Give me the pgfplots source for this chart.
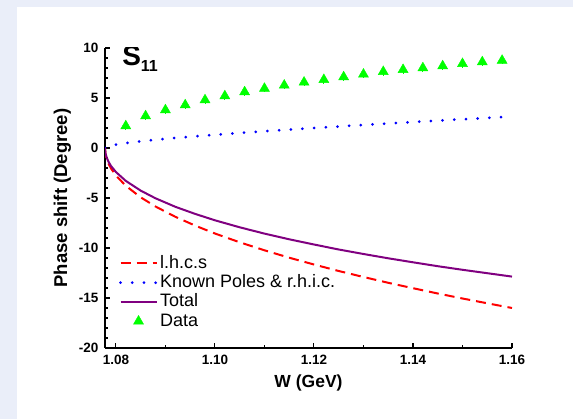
\documentclass[border=0pt]{standalone}
\usepackage{pgfplots}
\pgfplotsset{compat=1.18}
\usepackage{fontspec}
\setmainfont{Liberation Sans}

\definecolor{pagebg}{RGB}{234,238,249}
\definecolor{lhcs}{RGB}{255,0,0}
\definecolor{poles}{RGB}{0,0,255}
\definecolor{total}{RGB}{128,0,128}
\definecolor{datag}{RGB}{0,255,0}

% Phase-shift contributions (degrees) against W (GeV)
\pgfplotstableread{
W       lhcs    poles   total
1.0778  0.00    0.000   0.00
1.0779  -0.59   0.068   -0.52
1.0781  -1.02   0.119   -0.90
1.0785  -1.56   0.186   -1.37
1.0790  -2.03   0.247   -1.79
1.0800  -2.75   0.343   -2.40
1.0820  -3.78   0.492   -3.29
1.0850  -4.93   0.670   -4.26
1.0880  -5.85   0.823   -5.03
1.0920  -6.88   1.004   -5.88
1.0960  -7.76   1.169   -6.59
1.1000  -8.55   1.322   -7.23
1.1050  -9.43   1.503   -7.93
1.1100  -10.23  1.675   -8.56
1.1150  -10.97  1.840   -9.13
1.1200  -11.65  1.999   -9.65
1.1250  -12.30  2.153   -10.15
1.1300  -12.90  2.303   -10.60
1.1350  -13.48  2.450   -11.03
1.1400  -14.02  2.594   -11.43
1.1450  -14.55  2.734   -11.82
1.1500  -15.05  2.873   -12.18
1.1550  -15.53  3.009   -12.52
1.1600  -16.00  3.144   -12.86
}\curves

\pgfplotstableread{
W      delta
1.082  2.20
1.086  3.20
1.090  3.80
1.094  4.30
1.098  4.80
1.102  5.20
1.106  5.60
1.110  5.95
1.114  6.27
1.118  6.57
1.122  6.83
1.126  7.10
1.130  7.37
1.134  7.63
1.138  7.83
1.142  8.00
1.146  8.20
1.150  8.43
1.154  8.60
1.158  8.75
}\measured

\begin{document}
\begin{tikzpicture}[x=1pt,y=1pt]
\useasboundingbox (0,0) rectangle (573,419);
\fill[pagebg] (0,0) rectangle (573,419);
\fill[white] (17,0) rectangle (573,412);
\begin{axis}[
  at={(105pt,71pt)}, anchor=south west,
  scale only axis, width=407pt, height=300pt,
  xmin=1.0778, xmax=1.16, ymin=-20, ymax=10,
  axis lines*=left,
  axis line style={-, line width=1.3pt, black},
  tick align=inside,
  major tick length=5pt, minor tick length=2.5pt,
  every tick/.style={line width=1.1pt, black},
  xtick={1.08,1.10,1.12,1.14,1.16},
  xticklabels={1.08,1.10,1.12,1.14,1.16},
  minor xtick={1.09,1.11,1.13,1.15},
  ytick={-20,-15,-10,-5,0,5,10},
  minor y tick num=4,
  /pgf/number format/assume math mode=true,
  tick label style={font=\fontsize{13.5}{13.5}\selectfont\bfseries},
  yticklabel style={xshift=-3pt},
  xticklabel style={yshift=-4pt},
  xlabel={W (GeV)},
  ylabel={Phase shift (Degree)},
  xlabel style={font=\fontsize{17.5}{17.5}\selectfont\bfseries,
    at={(axis description cs:0.5,-0.133)}, anchor=base},
  ylabel style={font=\fontsize{18.5}{18.5}\selectfont\bfseries,
    at={(axis description cs:-0.093,0.5)}, anchor=base},
  legend image code/.code={\draw[mark repeat=2,mark phase=2,#1] plot coordinates {(0pt,0pt)(18pt,0pt)(36pt,0pt)};},
  legend style={at={(axis description cs:0.034,0.315)}, anchor=north west,
    draw=none, fill=none, inner sep=0pt, row sep=0pt,
    font=\fontsize{18}{18}\selectfont,
    nodes={inner sep=2pt, text height=12.5pt, text depth=2.8pt}},
  legend cell align=left,
]
\addplot[lhcs, line width=2pt, dash pattern=on 10pt off 6pt] table[x=W, y=lhcs] {\curves};
\addlegendentry{l.h.c.s}
\addplot[poles, line width=3pt, line cap=round, dash pattern=on 0pt off 11.7pt] table[x=W, y=poles] {\curves};
\addlegendentry{Known Poles \& r.h.i.c.}
\addplot[total, line width=2pt] table[x=W, y=total] {\curves};
\addlegendentry{Total}
\addplot[only marks, mark=triangle*, mark size=5.8pt, datag, mark options={draw=datag, fill=datag},
  error bars/.cd, y dir=both, y fixed=0.4, error mark=none,
  error bar style={line width=1pt, datag}] table[x=W, y=delta] {\measured};
\addlegendentry{Data}
\node[anchor=base west, inner sep=0pt, font=\fontsize{28}{28}\selectfont\bfseries]
  at (rel axis cs:0.042,0.943) {S\raisebox{-6.5pt}{\fontsize{16}{16}\selectfont 11}};
\end{axis}
\end{tikzpicture}
\end{document}
